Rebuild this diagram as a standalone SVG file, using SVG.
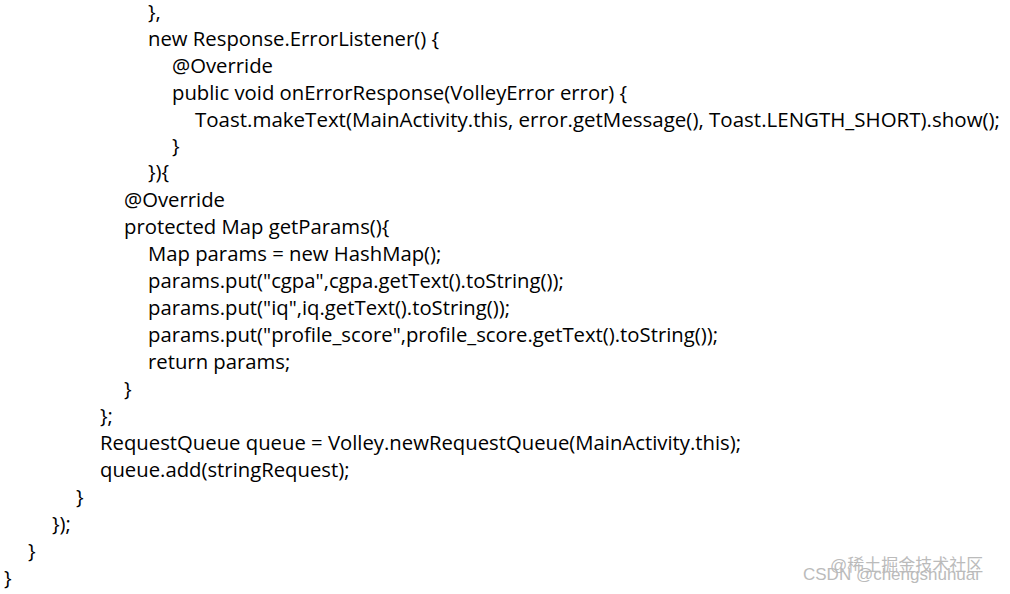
<svg xmlns="http://www.w3.org/2000/svg" width="1010" height="594" viewBox="0 0 1010 594">
<style>
.c{font-family:"Open Sans","Liberation Sans",sans-serif;font-size:20.3px;fill:#000}
.w{font-family:"Liberation Sans","Noto Sans CJK SC",sans-serif;font-size:17px;fill:#bbb}
</style>
<rect width="1010" height="594" fill="#fff"/>
<g class="c">
<text x="148" y="19">},</text>
<text x="148" y="46">new Response.ErrorListener() {</text>
<text x="172" y="73">@Override</text>
<text x="172" y="100">public void onErrorResponse(VolleyError error) {</text>
<text x="195" y="127" textLength="805" lengthAdjust="spacingAndGlyphs">Toast.makeText(MainActivity.this, error.getMessage(), Toast.LENGTH_SHORT).show();</text>
<text x="172" y="153">}</text>
<text x="148" y="179">}){</text>
<text x="124" y="207">@Override</text>
<text x="124" y="234">protected Map getParams(){</text>
<text x="148" y="261">Map params = new HashMap();</text>
<text x="148" y="288">params.put("cgpa",cgpa.getText().toString());</text>
<text x="148" y="315">params.put("iq",iq.getText().toString());</text>
<text x="148" y="342">params.put("profile_score",profile_score.getText().toString());</text>
<text x="148" y="369">return params;</text>
<text x="124" y="396">}</text>
<text x="100" y="423">};</text>
<text x="100" y="450">RequestQueue queue = Volley.newRequestQueue(MainActivity.this);</text>
<text x="100" y="477">queue.add(stringRequest);</text>
<text x="76" y="504">}</text>
<text x="52" y="531">});</text>
<text x="28" y="558">}</text>
<text x="4" y="585">}</text>
</g>
<text class="w" x="830" y="571">@稀土掘金技术社区</text>
<text class="w" x="803" y="580">CSDN @chengshuhuai</text>
</svg>
